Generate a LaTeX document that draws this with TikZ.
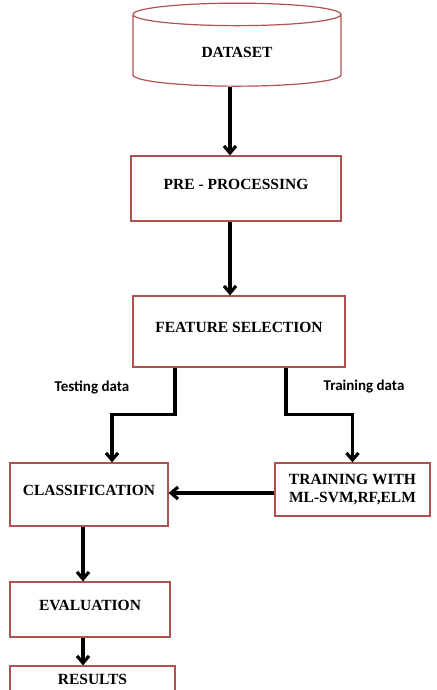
\documentclass[tikz,border=0pt]{standalone}
\usepackage{fontspec}
\setmainfont{Liberation Serif}
\newfontfamily\lblfont{Carlito}
\usetikzlibrary{arrows.meta, shapes.geometric}
\definecolor{boxred}{RGB}{176,82,82}

\begin{document}
\begin{tikzpicture}[x=1pt,y=-1pt,>={Straight Barb[length=7pt,width=12pt]},
      every node/.style={font=\fontsize{15.5}{18}\selectfont\bfseries},
      blockbox/.style={draw=boxred,line width=1.2pt,rectangle,text depth=8pt,align=center},
      datacyl/.style={draw=boxred,line width=1.2pt,cylinder,shape border rotate=90,aspect=0.29},
      flow/.style={->,line width=3.2pt},
      branchlbl/.style={font=\lblfont\fontsize{15}{18}\selectfont\bfseries}]
      \clip (0,0) rectangle (436,690);
      \node[datacyl, minimum width=208pt, minimum height=83pt] (data) at (237,52) {DATASET};
      \node[blockbox, minimum width=210pt, minimum height=65pt] (prep) at (236,188.5) {PRE - PROCESSING};
      \node[blockbox, minimum width=212pt, minimum height=71pt] (feat) at (239,331.5) {FEATURE SELECTION};
      \node[blockbox, minimum width=158pt, minimum height=63pt] (clas) at (89,494.5) {CLASSIFICATION};
      \node[blockbox, minimum width=155pt, minimum height=53pt, text depth=3pt] (train) at (352.5,489.5) {TRAINING WITH\\ML-SVM,RF,ELM};
      \node[blockbox, minimum width=160pt, minimum height=55pt] (eval) at (90,609.5) {EVALUATION};
      \node[blockbox, minimum width=165pt, minimum height=30pt, text depth=4pt] (res) at (92.5,681) {RESULTS};
      \node[branchlbl] (testlbl) at (92,387) {Testing data};
      \node[branchlbl] (trainlbl) at (364,387) {Training data};
      % arrows
      \draw[flow] ([xshift=-7pt]data.south) -- ([xshift=-6pt]prep.north);
      \draw[flow] ([xshift=-6pt]prep.south) -- ([xshift=-9pt]feat.north);
      \draw[flow] ([xshift=-64pt]feat.south) -- ++(0,47) -| ([xshift=23pt]clas.north);
      \draw[flow] ([xshift=47pt]feat.south) -- ++(0,47) -| (train.north);
      \draw[flow] ([yshift=-3.5pt]train.west) -- ([yshift=-3.5pt]train.west -| clas.east);
      \draw[flow] ([xshift=-6pt]clas.south) -- ([xshift=-7pt]eval.north);
      \draw[flow] ([xshift=-7pt]eval.south) -- ([xshift=-9.5pt]res.north);
    \end{tikzpicture}
\end{document}
